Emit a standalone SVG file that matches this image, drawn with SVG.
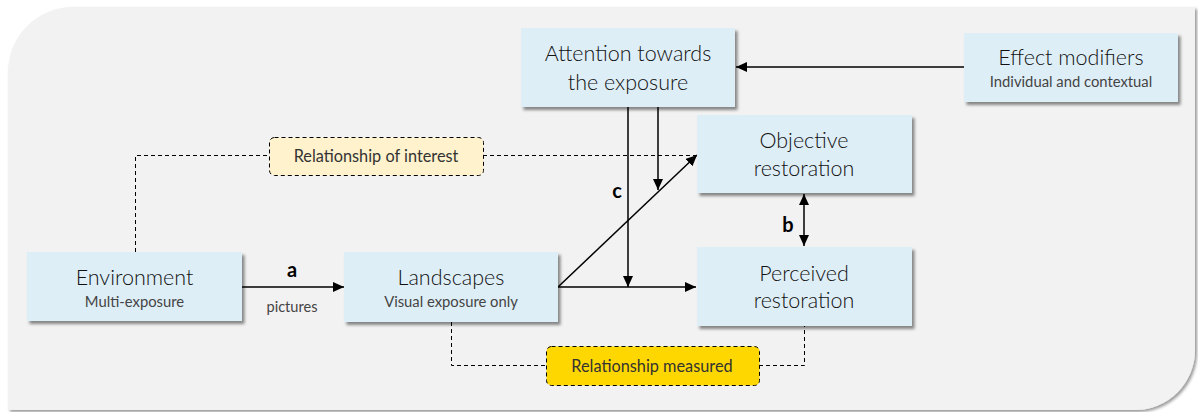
<svg xmlns="http://www.w3.org/2000/svg" width="1198" height="412" viewBox="0 0 1198 412">
<defs>
<filter id="sh" x="-10%" y="-10%" width="130%" height="140%">
<feDropShadow dx="2.5" dy="3" stdDeviation="1.5" flood-color="#000" flood-opacity="0.45"/>
</filter>
<filter id="bgsh" x="-5%" y="-5%" width="110%" height="110%">
<feDropShadow dx="2" dy="2" stdDeviation="1.5" flood-color="#000" flood-opacity="0.4"/>
</filter>
<marker id="ah" markerWidth="12" markerHeight="10" refX="11" refY="5" orient="auto" markerUnits="userSpaceOnUse">
<path d="M0,0 L11,5 L0,10 Z" fill="#000"/>
</marker>
<marker id="ahs" markerWidth="12" markerHeight="10" refX="1" refY="5" orient="auto" markerUnits="userSpaceOnUse">
<path d="M12,0 L1,5 L12,10 Z" fill="#000"/>
</marker>
</defs>
<style>
.node{fill:#DEEEF7;filter:url(#sh)}
.t{font-family:Lato,"Open Sans",sans-serif;font-weight:300;fill:#111;text-anchor:middle}
.big{font-size:21.5px}
.small{font-size:14.8px;fill:#444;font-weight:400}
.lbl{font-family:Lato,"Open Sans",sans-serif;font-weight:bold;font-size:20px;fill:#000;text-anchor:middle}
.con{stroke:#000;stroke-width:1.5;fill:none}
.dash{stroke:#000;stroke-width:1;fill:none;stroke-dasharray:4 3}
.rel{font-family:Lato,"Open Sans",sans-serif;font-size:16.3px;fill:#333;text-anchor:middle}
</style>
<path d="M8,72 A65,65 0 0 1 73,7 H1195 V350 A60,60 0 0 1 1135,410 H8 Z" fill="#F2F2F2" filter="url(#bgsh)"/>

<g id="connectors">
<line class="con" x1="964" y1="67" x2="736" y2="67" marker-end="url(#ah)"/>
<line class="con" x1="628" y1="107" x2="628" y2="287" marker-end="url(#ah)"/>
<line class="con" x1="658" y1="107" x2="658" y2="190" marker-end="url(#ah)"/>
<line class="con" x1="558" y1="287" x2="697" y2="155" marker-end="url(#ah)"/>
<line class="con" x1="558" y1="287" x2="696" y2="287" marker-end="url(#ah)"/>
<line class="con" x1="242" y1="287" x2="344" y2="287" marker-end="url(#ah)"/>
<line class="con" x1="804" y1="194" x2="804" y2="246" marker-start="url(#ahs)" marker-end="url(#ah)"/>
<path class="dash" d="M135.5,252 V155.5 H269"/>
<path class="dash" d="M483,155.5 H697"/>
<path class="dash" d="M451.5,322 V365.5 H546"/>
<path class="dash" d="M759,365.5 H804.5 V326"/>
<text class="lbl" x="292" y="277">a</text>
<text class="t" x="292" y="312" style="font-size:14.6px;font-weight:400;fill:#444">pictures</text>
<text class="lbl" x="617" y="198">c</text>
<text class="lbl" x="788" y="232">b</text>
</g>

<g id="rel-interest">
<rect x="269.5" y="137.5" width="214" height="38" rx="5" fill="#FFF2CC" stroke="#000" stroke-width="1" stroke-dasharray="4 3"/>
<text class="rel" x="376" y="162">Relationship of interest</text>
</g>
<g id="rel-measured">
<rect x="546.5" y="346.5" width="213" height="39" rx="5" fill="#FFD700" stroke="#000" stroke-width="1" stroke-dasharray="4 3"/>
<text class="rel" x="652" y="372">Relationship measured</text>
</g>

<g id="attention">
<rect class="node" x="521" y="28" width="214" height="79"/>
<text class="t big" x="628" y="61">Attention towards</text>
<text class="t big" x="628" y="90">the exposure</text>
</g>
<g id="effect">
<rect class="node" x="964" y="33" width="214" height="69"/>
<text class="t big" x="1071" y="65">Effect modifiers</text>
<text class="t small" x="1071" y="87">Individual and contextual</text>
</g>
<g id="objective">
<rect class="node" x="697" y="115" width="215" height="78"/>
<text class="t big" x="804" y="148">Objective</text>
<text class="t big" x="804" y="176">restoration</text>
</g>
<g id="environment">
<rect class="node" x="27" y="252" width="215" height="69"/>
<text class="t big" x="134.5" y="285">Environment</text>
<text class="t small" x="134.5" y="307">Multi-exposure</text>
</g>
<g id="landscapes">
<rect class="node" x="344" y="252" width="214" height="70"/>
<text class="t big" x="451" y="285">Landscapes</text>
<text class="t small" x="451" y="307">Visual exposure only</text>
</g>
<g id="perceived">
<rect class="node" x="697" y="247" width="215" height="79"/>
<text class="t big" x="804" y="281">Perceived</text>
<text class="t big" x="804" y="308">restoration</text>
</g>
</svg>
